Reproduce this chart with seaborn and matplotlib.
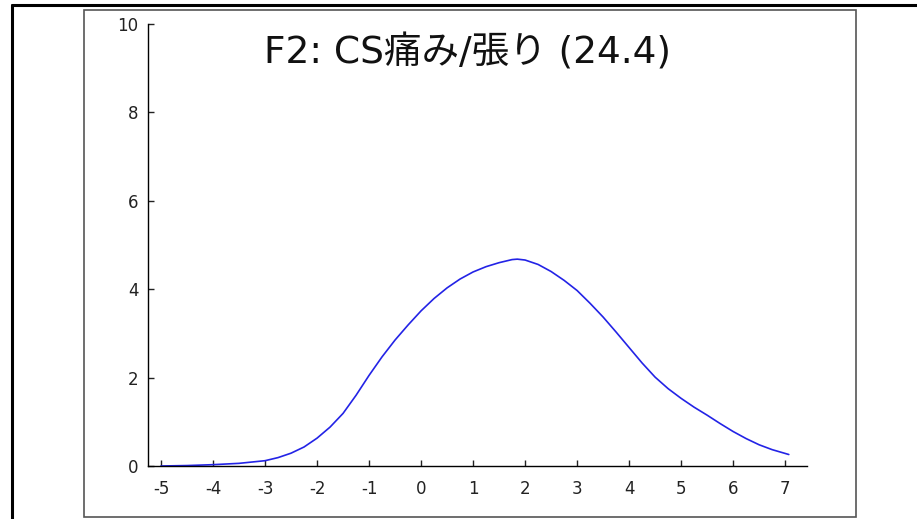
import pandas as pd
import seaborn as sns
import matplotlib.pyplot as plt
from matplotlib.lines import Line2D
from matplotlib.patches import Rectangle

# curve
x_vals = [-5.0, -4.5, -4.0, -3.5, -3.0, -2.75, -2.5, -2.25, -2.0, -1.75, -1.5, -1.25,
          -1.0, -0.75, -0.5, -0.25, 0.0, 0.25, 0.5, 0.75, 1.0, 1.25, 1.5, 1.75, 1.85,
          2.0, 2.25, 2.5, 2.75, 3.0, 3.25, 3.5, 3.75, 4.0, 4.25, 4.5, 4.75, 5.0, 5.25,
          5.5, 5.75, 6.0, 6.25, 6.5, 6.75, 7.07]
y_vals = [0.0, 0.01, 0.03, 0.06, 0.12, 0.19, 0.29, 0.43, 0.63, 0.88, 1.19, 1.60,
          2.05, 2.47, 2.85, 3.19, 3.51, 3.79, 4.03, 4.23, 4.39, 4.51, 4.60, 4.67, 4.68,
          4.66, 4.56, 4.40, 4.20, 3.97, 3.68, 3.37, 3.03, 2.68, 2.33, 2.01, 1.75, 1.53, 1.33,
          1.15, 0.96, 0.78, 0.62, 0.48, 0.37, 0.26]
x_ticks = [-5, -4, -3, -2, -1, 0, 1, 2, 3, 4, 5, 6, 7]
y_ticks = [0, 2, 4, 6, 8, 10]
title = "F2: CS痛み/張り (24.4)"

df = pd.DataFrame({"x": x_vals, "y": y_vals})

sns.set_style("ticks")
plt.rcParams['font.family'] = ['DejaVu Sans', 'Noto Sans CJK JP']
plt.rcParams['axes.unicode_minus'] = False

fig = plt.figure(figsize=(9.17, 5.19), dpi=100)
ax = fig.add_axes([148 / 917, 1 - 466 / 519, (807 - 148) / 917, (466 - 24) / 519])

sns.lineplot(data=df, x="x", y="y", sort=False, color="#2323e6", linewidth=1.2, ax=ax)

ax.set_xlim(-5.25, 7.42)
ax.set_ylim(0, 10)
ax.set_xticks(x_ticks)
ax.set_yticks(y_ticks)
ax.set_xlabel("")
ax.set_ylabel("")
sns.despine(ax=ax)
for s in ["left", "bottom"]:
    ax.spines[s].set_linewidth(1.0)
    ax.spines[s].set_color("black")
ax.tick_params(axis="both", direction="in", length=4, width=1.0, labelsize=12, colors="#222222")
ax.tick_params(axis="x", pad=10)
ax.tick_params(axis="y", pad=7)

# inner gray frame and outer black frame
fig.patches.append(Rectangle((84 / 917, 2.5 / 519), (856 - 84) / 917, (516.5 - 9.5) / 519,
                             transform=fig.transFigure, fill=False, edgecolor="#555555", linewidth=1.2))
fig.lines.append(Line2D([12 / 917, 12 / 917], [0, 1 - 5 / 519], transform=fig.transFigure,
                        color="black", linewidth=2.2))
fig.lines.append(Line2D([12 / 917, 1], [1 - 5 / 519, 1 - 5 / 519], transform=fig.transFigure,
                        color="black", linewidth=2.2))

fig.text(468 / 917, 1 - 53 / 519, title, ha="center", va="center", fontsize=27, color="#111111")

fig.savefig("out.png", dpi=100)
